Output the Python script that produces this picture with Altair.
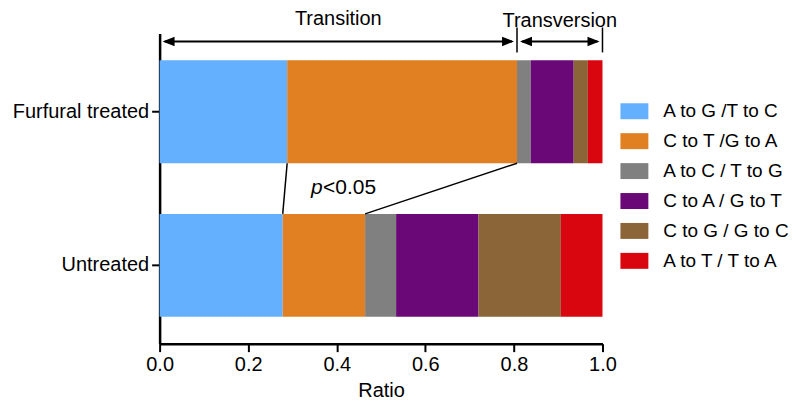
import altair as alt
import pandas as pd

groups = ["Furfural treated", "Untreated"]
mutations = ["A to G /T to C", "C to T /G to A", "A to C / T to G",
             "C to A / G to T", "C to G / G to C", "A to T / T to A"]
furfural = [0.288, 0.519, 0.031, 0.097, 0.032, 0.033]
untreated = [0.278, 0.186, 0.070, 0.186, 0.186, 0.094]
x_ticks = [0.0, 0.2, 0.4, 0.6, 0.8, 1.0]
palette = ["#64B0FF", "#E08022", "#808080", "#6A0878", "#8B6438", "#D9060F"]

FONT = "Liberation Sans"

rows = []
cum = {}
for g, vals in zip(groups, [furfural, untreated]):
    start = 0.0
    ends = []
    for i, (m, v) in enumerate(zip(mutations, vals)):
        rows.append({"group": g, "mutation": m, "order": i,
                     "start": start, "end": start + v})
        start += v
        ends.append(start)
    cum[g] = ends
df = pd.DataFrame(rows)

# connectors between the ends of the two transition classes
conn = pd.DataFrame({"x1": [cum[groups[0]][0], cum[groups[0]][1]],
                     "x2": [cum[groups[1]][0], cum[groups[1]][1]]})

transition_end = cum[groups[0]][1]
brackets = pd.DataFrame({"a": [0.0, transition_end], "b": [transition_end, 1.0]})
ticks_df = pd.DataFrame({"x": [transition_end, 1.0]})
labels_df = pd.DataFrame({"x": [transition_end / 2, (transition_end + 1.0) / 2],
                          "text": ["Transition", "Transversion"],
                          "ypix": [-8, -6]})

xscale = alt.Scale(domain=[0, 1], nice=False, zero=True)
yscale = alt.Scale(domain=groups, paddingInner=0.33, paddingOuter=0.175)

yaxis = alt.Axis(title=None, labelFontSize=20, labelFont=FONT,
                 labelColor="black", tickSize=8, tickWidth=2,
                 tickColor="black", domainColor="black",
                 domainWidth=2.5, labelPadding=3, grid=False)

bars = alt.Chart(df).mark_bar().encode(
    x=alt.X("start:Q", scale=xscale,
            axis=alt.Axis(values=x_ticks, format=".1f", title="Ratio",
                          labelFontSize=20, titleFontSize=20,
                          titleFontWeight="normal", labelFont=FONT, titleFont=FONT,
                          labelColor="black", titleColor="black", labelFlush=False,
                          tickSize=8, tickWidth=2, tickColor="black",
                          domainColor="black", domainWidth=2.5,
                          labelPadding=3, titlePadding=6, grid=False)),
    x2="end:Q",
    y=alt.Y("group:N", scale=yscale, sort=groups, axis=yaxis),
    color=alt.Color("mutation:N", scale=alt.Scale(domain=mutations, range=palette),
                    legend=alt.Legend(title=None, orient="none", legendX=462, legendY=64,
                                      symbolType="M-1,-0.571L1,-0.571L1,0.571L-1,0.571Z",
                                      symbolSize=784, symbolStrokeWidth=0,
                                      symbolOpacity=1,
                                      labelFontSize=19, labelFont=FONT,
                                      labelColor="black", labelOffset=15,
                                      rowPadding=6, padding=0)),
    order="order:Q",
)

connectors = alt.Chart(conn).mark_rule(color="black", strokeWidth=1.5).encode(
    x=alt.X("x1:Q", scale=xscale),
    x2="x2:Q",
    y=alt.YDatum(groups[0], type="nominal", bandPosition=1, scale=yscale, axis=yaxis),
    y2=alt.Y2Datum(groups[1], bandPosition=0),
)

shafts = alt.Chart(brackets).mark_rule(color="black", strokeWidth=2,
                                       xOffset=5, x2Offset=-5).encode(
    x=alt.X("a:Q", scale=xscale), x2="b:Q", y=alt.value(8))

heads_left = alt.Chart(brackets).mark_point(
    shape="M-1,0L1,-0.8L1,0.8Z", size=144, filled=True, color="black",
    opacity=1, xOffset=9).encode(
    x=alt.X("a:Q", scale=xscale), y=alt.value(8))

heads_right = alt.Chart(brackets).mark_point(
    shape="M1,0L-1,-0.8L-1,0.8Z", size=144, filled=True, color="black",
    opacity=1, xOffset=-9).encode(
    x=alt.X("b:Q", scale=xscale), y=alt.value(8))

bracket_ticks = alt.Chart(ticks_df).mark_rule(color="black", strokeWidth=1.5).encode(
    x=alt.X("x:Q", scale=xscale), y=alt.value(-6), y2=alt.value(19))

top_labels = alt.Chart(labels_df).mark_text(
    fontSize=20, font=FONT, color="black", baseline="alphabetic", align="center").encode(
    x=alt.X("x:Q", scale=xscale), y=alt.Y("ypix:Q", scale=None), text="text:N")

p_text = alt.Chart(pd.DataFrame({"x": [0.342]})).mark_text(
    text="p", fontStyle="italic", fontSize=21, font=FONT, color="black",
    align="left", baseline="middle").encode(
    x=alt.X("x:Q", scale=xscale), y=alt.value(155))

p_rest = alt.Chart(pd.DataFrame({"x": [0.342]})).mark_text(
    text="<0.05", fontSize=21, font=FONT, color="black",
    align="left", baseline="middle", dx=12).encode(
    x=alt.X("x:Q", scale=xscale), y=alt.value(155))

chart = alt.layer(bars, connectors, shafts, heads_left, heads_right,
                  bracket_ticks, top_labels, p_text, p_rest).properties(
    width=444, height=311,
    autosize=alt.AutoSizeParams(type="none"),
    padding={"left": 152, "top": 25, "right": 190, "bottom": 59},
).configure_view(stroke=None)

chart.save("out.html", embed_options={"renderer": "svg", "actions": False})
